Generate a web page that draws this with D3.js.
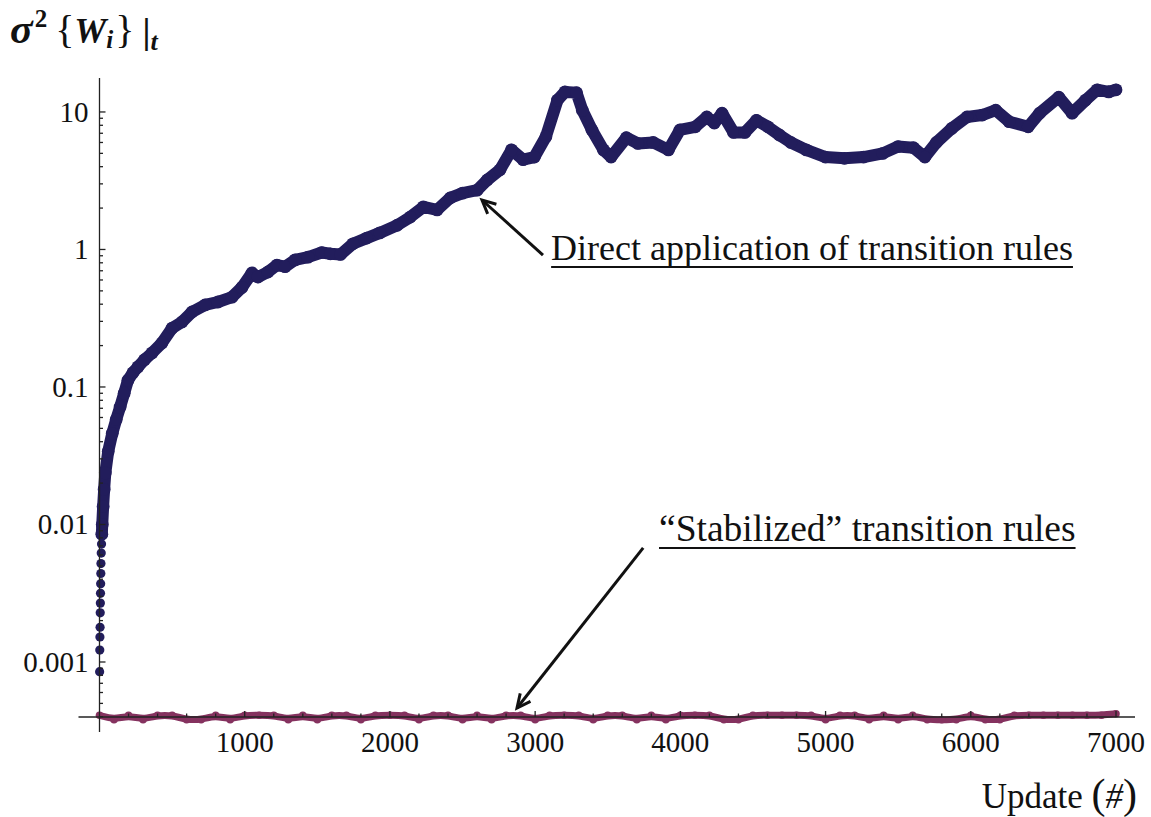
<!DOCTYPE html>
<html><head><meta charset="utf-8">
<script src="https://cdn.jsdelivr.net/npm/d3@7"></script>
<style>body{margin:0;background:#fff}svg{display:block}text{font-family:"Liberation Serif","Times New Roman",serif;fill:#111}</style>
</head><body><svg id="c" width="1151" height="817"></svg>
<script>
// ---- data ----
const directUpdates=[1,2,3,4,5,6,7,8,9,10,12,14,16,19,25,32,40,60,88,115,142,170,196,230,265,310,362,430,500,568,637,727,816,912,981,1050,1091,1160,1222,1278,1347,1436,1530,1590,1660,1745,1840,1930,2050,2140,2230,2325,2415,2500,2600,2670,2758,2837,2917,2995,3074,3154,3206,3285,3325,3391,3470,3523,3628,3707,3813,3918,3997,4103,4182,4234,4287,4366,4445,4524,4603,4682,4761,4867,4999,5130,5262,5394,5499,5605,5684,5763,5869,5974,6079,6172,6264,6395,6474,6606,6698,6791,6870,6950,7000];
const directValues=[0.00085,0.00122,0.00152,0.00179,0.00228,0.00268,0.00316,0.0037,0.0044,0.0052,0.0062,0.0072,0.0085,0.01,0.0135,0.018,0.0237,0.034,0.046,0.058,0.0716,0.09,0.112,0.127,0.14,0.158,0.177,0.209,0.268,0.297,0.351,0.395,0.415,0.45,0.53,0.675,0.63,0.686,0.77,0.75,0.84,0.88,0.95,0.93,0.92,1.1,1.21,1.32,1.5,1.72,2.04,1.94,2.37,2.57,2.7,3.2,3.8,5.3,4.5,4.7,6.6,12.2,14,13.8,10.3,7.4,5.3,4.7,6.5,5.9,6.0,5.3,7.4,7.8,9.2,8.3,9.8,7.1,7.1,8.7,7.8,6.8,6.0,5.3,4.7,4.6,4.7,5.0,5.6,5.5,4.7,6.0,7.6,9.2,9.5,10.3,8.5,7.8,9.8,12.8,9.8,12.2,14.5,14,14.5];
const stabilizedUpdates=[0,100,200,300,400,500,600,700,800,900,1000,1100,1200,1300,1400,1500,1600,1700,1800,1900,2000,2100,2200,2300,2400,2500,2600,2700,2800,2900,3000,3100,3200,3300,3400,3500,3600,3700,3800,3900,4000,4100,4200,4300,4400,4500,4600,4700,4800,4900,5000,5100,5200,5300,5400,5500,5600,5700,5800,5900,6000,6100,6200,6300,6400,6500,6600,6700,6800,6900,7000];
const stabilizedValues=[0.00041,0.00038,0.00041,0.00038,0.00041,0.00041,0.00038,0.00038,0.00041,0.00038,0.00041,0.00041,0.00041,0.00038,0.00041,0.00038,0.00041,0.00041,0.00038,0.00041,0.00041,0.00041,0.00038,0.00041,0.00041,0.00038,0.00041,0.00038,0.00041,0.00041,0.00038,0.00041,0.00041,0.00041,0.00038,0.00041,0.00041,0.00038,0.00041,0.00038,0.00041,0.00041,0.00041,0.00038,0.00038,0.00041,0.00041,0.00041,0.00041,0.00041,0.00038,0.00041,0.00041,0.00038,0.00041,0.00038,0.00041,0.00038,0.00038,0.00038,0.00041,0.00038,0.00038,0.00041,0.00041,0.00041,0.00041,0.00041,0.00041,0.00041,0.00042];
const xTicks=[1000,2000,3000,4000,5000,6000,7000];
const xTickLabels=["1000","2000","3000","4000","5000","6000","7000"];
const yTicks=[0.001,0.01,0.1,1,10];
const yTickLabels=["0.001","0.01","0.1","1","10"];
const annotDirect={text:"Direct application of transition rules",tip:[2634,2.29],tail:[3054,0.91],at:[3110,0.839],size:36};
const annotStab={text:"\u201CStabilized\u201D transition rules",tip:[2875,0.000463],tail:[3744,0.00676],at:[3853,0.0076],size:37.5};

// ---- scales ----
const svg=d3.select("#c");
const x=d3.scaleLinear().domain([0,7000]).range([99.5,1116]);
const y=d3.scaleLog().domain([Math.pow(10,-3.4),Math.pow(10,1.247)]).range([717,78]);
const blue="#221d5c", pink="#85325f";

// ---- data marks ----
const dData=directUpdates.map((u,i)=>[u,directValues[i]]);
const sData=stabilizedUpdates.map((u,i)=>[u,stabilizedValues[i]]);
const line=d3.line().x(d=>x(d[0])).y(d=>y(d[1]));
svg.append("path").datum(sData).attr("d",line.curve(d3.curveBasis)).attr("fill","none").attr("stroke",pink).attr("stroke-width",7).attr("stroke-linejoin","round");
line.curve(d3.curveLinear);
svg.append("g").selectAll("circle").data(sData).join("circle").attr("cx",d=>x(d[0])).attr("cy",d=>y(d[1])).attr("r",3.8).attr("fill",pink);
svg.append("path").datum(dData.filter(d=>d[0]>=16)).attr("d",line).attr("fill","none").attr("stroke",blue).attr("stroke-width",12).attr("stroke-linejoin","round").attr("stroke-linecap","round");
svg.append("g").selectAll("circle").data(dData).join("circle").attr("cx",d=>x(d[0])).attr("cy",d=>y(d[1])).attr("r",d=>d[0]<16?4.6:6.4).attr("fill",blue);

// ---- axes ----
const ax=svg.append("g").attr("stroke","#222").attr("stroke-width",1.3);
const x0=x(0), yB=y.range()[0];
ax.append("line").attr("x1",x0-21).attr("x2",x(7000)+19).attr("y1",yB).attr("y2",yB);
ax.append("line").attr("x1",x0).attr("x2",x0).attr("y1",y.range()[1]).attr("y2",yB+15);
const xMinor=d3.range(200,7001,200).filter(v=>v%1000!==0);
ax.selectAll(".xm").data(xMinor).join("line").attr("x1",d=>x(d)).attr("x2",d=>x(d)).attr("y1",yB).attr("y2",yB-3.5);
ax.selectAll(".xM").data(xTicks).join("line").attr("x1",d=>x(d)).attr("x2",d=>x(d)).attr("y1",yB).attr("y2",yB-6);
const yMinor=[];
for(let e=-4;e<=1;e++)for(let k=2;k<=9;k++){const v=k*Math.pow(10,e);if(v>y.domain()[0]&&v<y.domain()[1])yMinor.push(v);}
ax.selectAll(".ym").data(yMinor).join("line").attr("x1",x0).attr("x2",x0+3.5).attr("y1",d=>y(d)).attr("y2",d=>y(d));
ax.selectAll(".yM").data(yTicks).join("line").attr("x1",x0).attr("x2",x0+6).attr("y1",d=>y(d)).attr("y2",d=>y(d));

svg.append("g").selectAll("text").data(xTicks).join("text").attr("x",d=>x(d)).attr("y",yB+35).attr("text-anchor","middle").attr("font-size",29).text((d,i)=>xTickLabels[i]);
svg.append("g").selectAll("text").data(yTicks).join("text").attr("x",x0-11).attr("y",d=>y(d)).attr("dy","0.33em").attr("text-anchor","end").attr("font-size",29).text((d,i)=>yTickLabels[i]);

// axis labels
const xl=svg.append("text").attr("x",1137).attr("y",808).attr("text-anchor","end").attr("font-size",35);
xl.append("tspan").text("Update ");
xl.append("tspan").attr("font-size",42).text("(");
xl.append("tspan").attr("font-style","italic").text("#");
xl.append("tspan").attr("font-size",42).text(")");

const yl=svg.append("text").attr("x",10).attr("y",43).attr("font-size",36).attr("font-weight","bold");
yl.append("tspan").attr("font-style","italic").attr("font-size",42).text("\u03C3");
yl.append("tspan").attr("font-size",25).attr("dy",-16).attr("dx",2).text("2");
yl.append("tspan").attr("font-weight","normal").attr("font-size",40).attr("dy",16).attr("dx",8).text("{");
yl.append("tspan").attr("font-style","italic").text("W");
yl.append("tspan").attr("font-style","italic").attr("font-size",25).attr("dy",5).text("i");
yl.append("tspan").attr("font-weight","normal").attr("font-size",40).attr("dy",-5).attr("dx",2).text("}");
yl.append("tspan").attr("dx",8).text("|");
yl.append("tspan").attr("font-style","italic").attr("font-size",26).attr("dy",7).text("t");

// annotations
function annotate(a){
  const t=svg.append("text").attr("x",x(a.at[0])).attr("y",y(a.at[1])).attr("font-size",a.size).text(a.text);
  const w=t.node().getComputedTextLength();
  svg.append("line").attr("x1",x(a.at[0])).attr("x2",x(a.at[0])+w).attr("y1",y(a.at[1])+7).attr("y2",y(a.at[1])+7).attr("stroke","#111").attr("stroke-width",2);
  const [tx,ty]=[x(a.tip[0]),y(a.tip[1])],[sx,sy]=[x(a.tail[0]),y(a.tail[1])];
  svg.append("line").attr("x1",sx).attr("y1",sy).attr("x2",tx).attr("y2",ty).attr("stroke","#111").attr("stroke-width",3);
  const ang=Math.atan2(ty-sy,tx-sx),L=15,h=0.45;
  const p=[[tx-L*Math.cos(ang-h),ty-L*Math.sin(ang-h)],[tx,ty],[tx-L*Math.cos(ang+h),ty-L*Math.sin(ang+h)]];
  svg.append("path").attr("d",d3.line()(p)).attr("fill","none").attr("stroke","#111").attr("stroke-width",3).attr("stroke-linejoin","miter");
}
annotate(annotDirect);
annotate(annotStab);
</script></body></html>
